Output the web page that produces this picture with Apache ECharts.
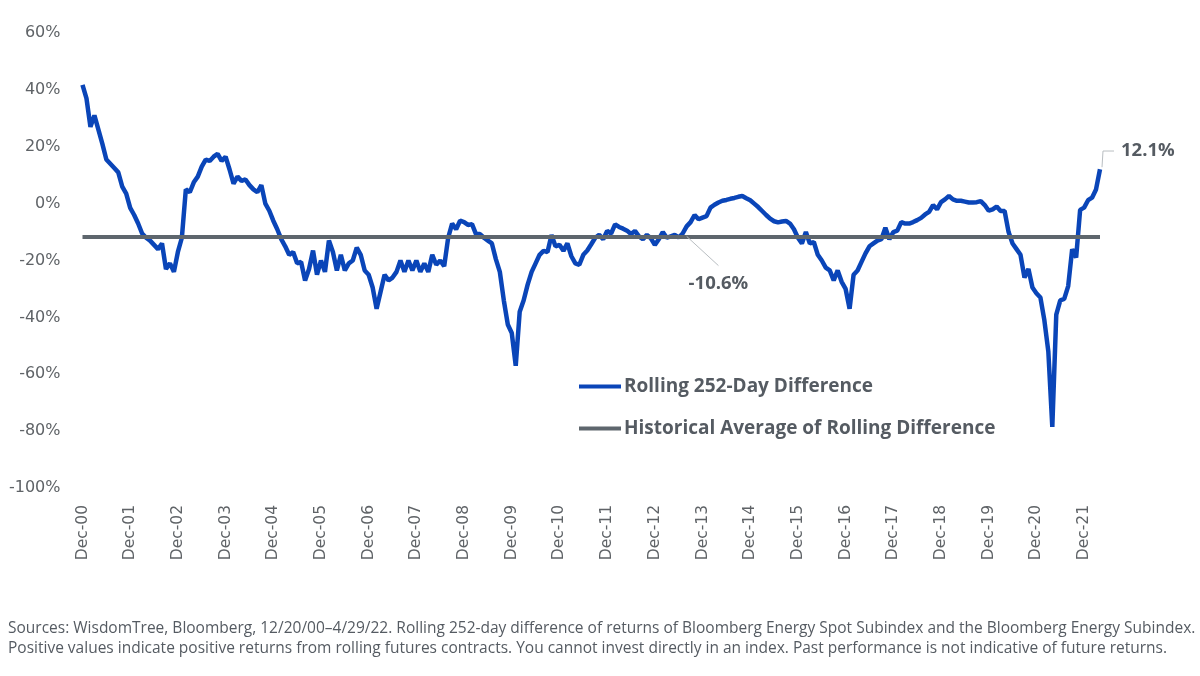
<!DOCTYPE html>
<html>
<head>
<meta charset="utf-8">
<script src="https://cdn.jsdelivr.net/npm/echarts@6/dist/echarts.min.js"></script>
<style>
  html, body { margin: 0; padding: 0; background: #ffffff; }
  #chart { width: 1200px; height: 676px; }
</style>
</head>
<body>
<div id="chart"></div>
<script>
// ---- Data (monthly readings, Dec-2000 .. Apr-2022) ----
const monthNames = ['Jan','Feb','Mar','Apr','May','Jun','Jul','Aug','Sep','Oct','Nov','Dec'];
const startYear = 2000;
const startMonth = 11; // December
const rollingDiff = [
  41.8, 37, 27, 31, 26, 21, 15.5, 14, 12.5, 11, 6, 3.5,
  -1.5, -4, -7, -10.5, -12, -13, -14.5, -16, -14, -23, -21, -24,
  -17, -12, 5, 4, 7.5, 9.5, 13, 15.5, 15, 16.5, 17.5, 15,
  16.5, 12, 7, 9.5, 8, 8.5, 6.5, 5, 4, 6.5, 0, -2.5,
  -6, -9, -12.5, -15, -18, -17, -21, -20.5, -27, -23, -16.5, -25,
  -20, -24, -13, -17, -23.5, -18, -23.5, -21, -20, -15.5, -18, -23.5,
  -25, -29.5, -37, -31, -25, -27, -26, -24, -20, -24, -20, -23.5,
  -20, -24, -21, -24, -18, -21.5, -20, -22, -12, -7, -9, -6,
  -6.5, -7.5, -7.2, -10.7, -10.7, -12, -13, -14, -19.5, -24, -34, -42.5,
  -45.5, -57, -38, -34, -28.5, -24, -21, -18, -16.6, -17, -11, -15,
  -14.5, -16.6, -14, -18.5, -21, -21.5, -18, -16.5, -14.3, -12, -11, -12.5,
  -9.6, -10.5, -7.3, -8.2, -8.8, -9.5, -10.7, -9.6, -11.5, -12.5, -11, -12.2,
  -14.5, -12.5, -10, -12, -11.5, -11, -11.9, -10.5, -8, -6.5, -4, -5.5,
  -4.9, -4.4, -1.4, -0.4, 0.4, 1, 1.3, 1.7, 2, 2.4, 2.7, 1.9,
  1.2, 0, -1.2, -2.6, -4, -5.3, -6.2, -6.6, -6.3, -6.1, -7, -9,
  -12, -14, -10, -14, -13.5, -18, -20, -22.5, -23.5, -27, -23.5, -27.5,
  -30, -37, -25, -23.5, -20.5, -17.5, -15, -14, -13, -12.5, -8.5, -12.5,
  -10, -9.5, -6.5, -7, -7, -6.5, -5.8, -5, -3.8, -2.9, -0.5, -2,
  0.5, 1.5, 2.7, 1.5, 1, 1, 0.7, 0.4, 0.4, 0.5, 0.9, -0.5,
  -2.5, -2, -1, -2.6, -2.6, -10, -14, -16, -18, -26, -23, -29.5,
  -31.5, -33, -41, -52, -78.5, -39, -34, -33.5, -29, -16, -19, -2.2,
  -1.4, 1.2, 2.1, 5, 12.1
];
const avgLinePosition = -11.5;      // where the average line sits in the picture
const avgLabelText = '-10.6%';      // label printed in the chart
const lastLabelText = '12.1%';
const yTicks = { min: -100, max: 60, interval: 20 };
const seriesNames = ['Rolling 252-Day Difference', 'Historical Average of Rolling Difference'];
const footnote = [
  'Sources: WisdomTree, Bloomberg, 12/20/00\u20134/29/22. Rolling 252-day difference of returns of Bloomberg Energy Spot Subindex and the Bloomberg Energy Subindex.',
  'Positive values indicate positive returns from rolling futures contracts. You cannot invest directly in an index. Past performance is not indicative of future returns.'
];

const categories = rollingDiff.map((_, i) => {
  const m = (startMonth + i) % 12;
  const y = startYear + Math.floor((startMonth + i) / 12);
  return monthNames[m] + '-' + String(y % 100).padStart(2, '0');
});

const BLUE = '#0a45b8';
const GREY = '#5e666d';
const TEXT = '#555b62';

const chart = echarts.init(document.getElementById('chart'), null, { renderer: 'canvas' });

const option = {
  animation: false,
  backgroundColor: '#ffffff',
  grid: { left: 82.5, right: 100, top: 33, bottom: 188, containLabel: false },
  legend: {
    orient: 'vertical',
    left: 579,
    top: 377,
    padding: 0,
    itemWidth: 42,
    itemHeight: 4,
    itemGap: 23,
    icon: 'rect',
    selectedMode: false,
    data: seriesNames,
    textStyle: { fontFamily: 'Open Sans', fontWeight: 'bold', fontSize: 19, color: TEXT, padding: [0, 0, 0, -2] }
  },
  xAxis: {
    type: 'category',
    data: categories,
    boundaryGap: false,
    axisLine: { show: false },
    axisTick: { show: false },
    axisLabel: {
      interval: (idx) => idx % 12 === 0,
      rotate: 90,
      margin: 17,
      color: '#5f6367',
      fontFamily: 'DejaVu Sans',
      fontSize: 15.5
    },
    splitLine: { show: false }
  },
  yAxis: {
    type: 'value',
    min: yTicks.min,
    max: yTicks.max,
    interval: yTicks.interval,
    axisLine: { show: false },
    axisTick: { show: false },
    splitLine: { show: false },
    axisLabel: {
      formatter: '{value}%',
      margin: 22,
      color: '#5f6367',
      fontFamily: 'DejaVu Sans',
      fontSize: 16
    }
  },
  series: [
    {
      name: seriesNames[0],
      type: 'line',
      data: rollingDiff,
      showSymbol: false,
      symbol: 'none',
      lineStyle: { color: BLUE, width: 4.5 },
      itemStyle: { color: BLUE },
      z: 3
    },
    {
      name: seriesNames[1],
      type: 'line',
      data: [],
      showSymbol: false,
      symbol: 'none',
      lineStyle: { color: GREY, width: 4 },
      itemStyle: { color: GREY },
      markLine: {
        silent: true,
        symbol: 'none',
        label: { show: false },
        lineStyle: { color: GREY, width: 4, type: 'solid' },
        data: [{ yAxis: avgLinePosition }]
      },
      z: 2
    }
  ],
  title: {
    text: footnote.join('\n'),
    left: 8,
    top: 619,
    padding: 0,
    textStyle: { fontFamily: 'Open Sans', fontWeight: 'normal', fontSize: 15.5, color: '#555b62', lineHeight: 20 }
  }
};
chart.setOption(option);

// Annotations anchored to data coordinates
const lastIdx = rollingDiff.length - 1;
const pEnd = chart.convertToPixel({ gridIndex: 0 }, [lastIdx, rollingDiff[lastIdx]]);
const pAvgA = chart.convertToPixel({ gridIndex: 0 }, [152, avgLinePosition]);
const pAvgB = chart.convertToPixel({ gridIndex: 0 }, [160, -21.8]);
const pAvgT = chart.convertToPixel({ gridIndex: 0 }, [159.9, -28.2]);
const pTop = chart.convertToPixel({ gridIndex: 0 }, [lastIdx, 18.5]);

chart.setOption({
  graphic: [
    { type: 'polyline', shape: { points: [pAvgA, pAvgB] }, style: { stroke: '#b9bec2', lineWidth: 1, fill: null }, z: 10 },
    { type: 'text', x: pAvgT[0], y: pAvgT[1], style: { text: avgLabelText, fill: TEXT, font: 'bold 18.5px "Open Sans"', align: 'center', verticalAlign: 'middle' }, z: 10 },
    { type: 'polyline', shape: { points: [[pEnd[0] + 2, pEnd[1] - 2], [pEnd[0] + 3, pTop[1]], [pEnd[0] + 14, pTop[1]]] }, style: { stroke: '#b9bec2', lineWidth: 1, fill: null }, z: 10 },
    { type: 'text', x: pEnd[0] + 21, y: pTop[1], style: { text: lastLabelText, fill: TEXT, font: 'bold 18.5px "Open Sans"', align: 'left', verticalAlign: 'middle' }, z: 10 }
  ]
});
</script>
</body>
</html>
